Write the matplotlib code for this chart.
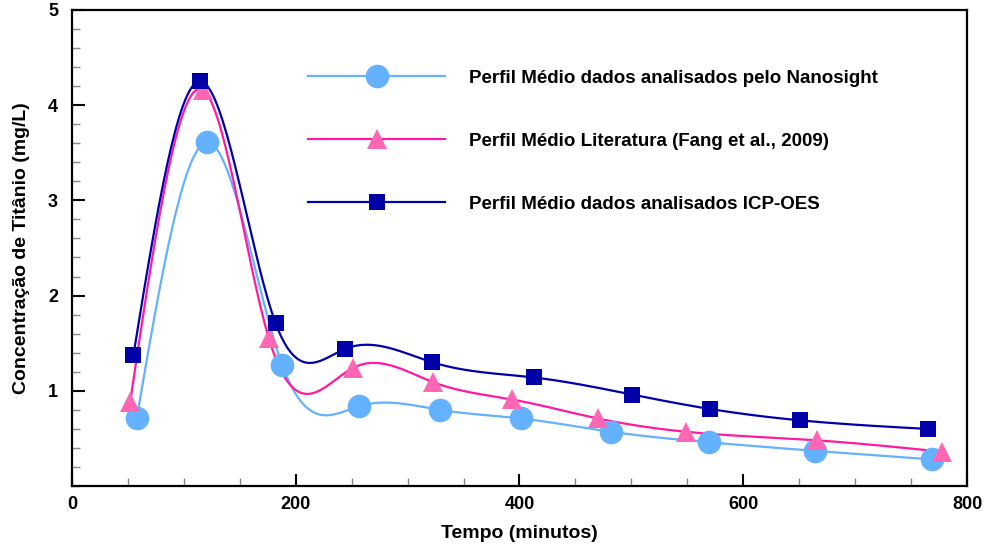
import numpy as np
import matplotlib.pyplot as plt
from matplotlib.ticker import MultipleLocator

plt.rcParams['font.family'] = ['Liberation Sans', 'DejaVu Sans']
plt.rcParams['font.weight'] = 'bold'

# data
t_nano = [58, 121, 188, 257, 329, 401, 482, 569, 664, 769]
c_nano = [0.72, 3.61, 1.27, 0.84, 0.80, 0.71, 0.57, 0.46, 0.37, 0.28]

t_lit = [52, 117, 176, 251, 323, 393, 470, 549, 666, 778]
c_lit = [0.88, 4.16, 1.55, 1.24, 1.09, 0.91, 0.71, 0.57, 0.48, 0.36]

t_icp = [55, 114, 182, 244, 322, 413, 501, 570, 651, 765]
c_icp = [1.38, 4.25, 1.71, 1.44, 1.30, 1.14, 0.96, 0.81, 0.69, 0.60]

labels = ['Perfil Médio dados analisados pelo Nanosight',
          'Perfil Médio Literatura (Fang et al., 2009)',
          'Perfil Médio dados analisados ICP-OES']


def spline(x, y, n=400):
    # natural cubic spline, just for drawing the smooth curve
    x = np.asarray(x, float)
    y = np.asarray(y, float)
    k = len(x)
    h = np.diff(x)
    A = np.zeros((k, k))
    b = np.zeros(k)
    A[0, 0] = A[-1, -1] = 1
    for i in range(1, k - 1):
        A[i, i - 1] = h[i - 1]
        A[i, i] = 2 * (h[i - 1] + h[i])
        A[i, i + 1] = h[i]
        b[i] = 6 * ((y[i + 1] - y[i]) / h[i] - (y[i] - y[i - 1]) / h[i - 1])
    m = np.linalg.solve(A, b)
    xs = np.linspace(x[0], x[-1], n)
    j = np.clip(np.searchsorted(x, xs) - 1, 0, k - 2)
    dx = xs - x[j]
    hj = h[j]
    a = y[j]
    bb = (y[j + 1] - y[j]) / hj - hj * (2 * m[j] + m[j + 1]) / 6
    c = m[j] / 2
    d = (m[j + 1] - m[j]) / (6 * hj)
    return xs, a + bb * dx + c * dx ** 2 + d * dx ** 3


fig = plt.figure(figsize=(10.05, 5.48), dpi=100)
ax = fig.add_axes([0.0716, 0.113, 0.8906, 0.869])

series = [
    (t_nano, c_nano, '#63b1ff', '#63b1ff', 'o', 17),
    (t_lit, c_lit, '#ff1aa0', '#ff66b3', '^', 14),
    (t_icp, c_icp, '#0000a8', '#0000a8', 's', 11.5),
]
handles = []
for (t, c, lc, mc, mk, ms), lab in zip(series, labels):
    xs, ys = spline(t, c)
    ax.plot(xs, ys, color=lc, lw=1.6, zorder=2)
    ax.plot(t, c, linestyle='none', marker=mk, ms=ms, color=mc,
            markeredgewidth=0, zorder=3)
    h, = ax.plot([], [], color=lc, lw=1.6, marker=mk, ms=ms, mfc=mc,
                 mec=mc, mew=0, label=lab)
    handles.append(h)

ax.set_xlim(0, 800)
ax.set_ylim(0, 5)
ax.xaxis.set_major_locator(MultipleLocator(200))
ax.xaxis.set_minor_locator(MultipleLocator(50))
ax.yaxis.set_major_locator(MultipleLocator(1))
ax.yaxis.set_minor_locator(MultipleLocator(0.2))
ax.set_yticks([1, 2, 3, 4, 5])

ax.tick_params(which='major', direction='in', length=9, width=1.5,
               labelsize=13, pad=10)
ax.tick_params(which='minor', direction='in', length=5.5, width=1,
               color='#888888')
ax.tick_params(axis='x', which='major', pad=7)
for s in ax.spines.values():
    s.set_linewidth(1.6)

ax.set_xlabel('Tempo (minutos)', fontsize=14, fontweight='bold', labelpad=9)
ax.set_ylabel('Concentração de Titânio (mg/L)', fontsize=14,
              fontweight='bold', labelpad=13)

ax.legend(handles=handles, loc='upper left', bbox_to_anchor=(0.245, 0.91),
          frameon=False, handlelength=7.3, handletextpad=1.3,
          labelspacing=2.45, prop={'size': 13.5, 'weight': 'bold'})

fig.savefig('out.png', dpi=100)
